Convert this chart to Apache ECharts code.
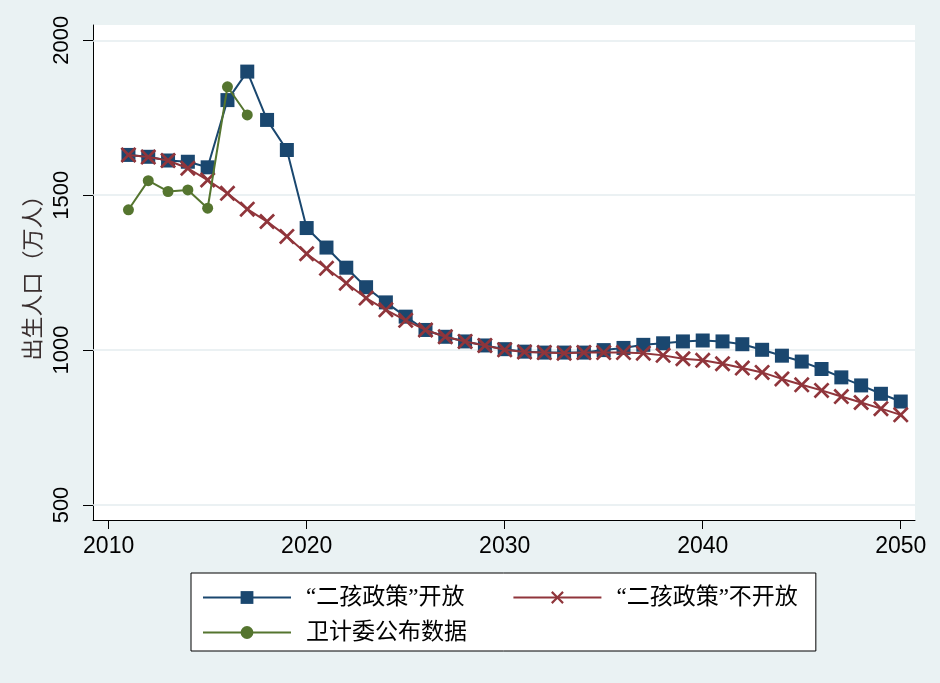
<!DOCTYPE html>
<html><head><meta charset="utf-8">
<script src="https://cdn.jsdelivr.net/npm/echarts@6/dist/echarts.min.js"></script>
<style>html,body{margin:0;padding:0;background:#eaf2f3}#c{width:940px;height:683px}</style>
</head><body><div id="c"></div>
<script>
const years = [2011,2012,2013,2014,2015,2016,2017,2018,2019,2020,2021,2022,2023,2024,2025,2026,2027,2028,2029,2030,2031,2032,2033,2034,2035,2036,2037,2038,2039,2040,2041,2042,2043,2044,2045,2046,2047,2048,2049,2050];
const openPolicy = [1630,1624,1612,1608,1590,1807,1899,1743,1646,1394,1331,1266,1203,1154,1108,1065,1043,1028,1015,1003,995,992,992,992,1000,1007,1017,1022,1028,1031,1028,1019,1001,982,963,939,912,886,859,834];
const noPolicy = [1630,1623,1612,1587,1549,1506,1455,1415,1367,1311,1264,1216,1168,1130,1096,1065,1043,1028,1015,1001,994,992,990,992,992,992,990,983,972,967,956,942,928,907,888,870,850,831,811,791];
const officialYears = [2011,2012,2013,2014,2015,2016,2017];
const officialData = [1453,1547,1512,1517,1458,1850,1759];
const xTicks = [2010,2020,2030,2040,2050];
const yTicks = [500,1000,1500,2000];
const names = ['“二孩政策”开放','“二孩政策”不开放','卫计委公布数据'];

const pair = (xs, ys) => xs.map((x, i) => [x, ys[i]]);
const crossPath = 'path://M0,12L12,0L50,38L88,0L100,12L62,50L100,88L88,100L50,62L12,100L0,88L38,50Z';
const numFont = 'Liberation Sans, Arial, sans-serif';
const cjkFont = 'Noto Sans CJK SC, sans-serif';
const legFont = 'Liberation Serif, Noto Sans CJK SC, serif';

const chart = echarts.init(document.getElementById('c'), null, {renderer: 'canvas'});
chart.setOption({
  backgroundColor: '#eaf2f3',
  animation: false,
  grid: {left: 93, right: 25, top: 25, bottom: 163, show: true, backgroundColor: '#ffffff', borderWidth: 0, containLabel: false},
  xAxis: {
    type: 'value', min: 2009.21, max: 2050.72,
    axisLine: {show: true, onZero: false, lineStyle: {color: '#000', width: 1}},
    axisTick: {show: true, length: 9, customValues: xTicks, lineStyle: {color: '#000', width: 1}},
    axisLabel: {customValues: xTicks, color: '#000', fontFamily: numFont, fontSize: 23, margin: 15, formatter: v => String(v)},
    splitLine: {show: false}
  },
  yAxis: {
    type: 'value', min: 451.6, max: 2049.4,
    name: '出生人口（万人）', nameLocation: 'middle', nameGap: 45, nameRotate: 90,
    nameTextStyle: {color: '#3a2f2f', fontFamily: cjkFont, fontSize: 22},
    axisLine: {show: true, onZero: false, lineStyle: {color: '#000', width: 1}},
    axisTick: {show: true, length: 10, customValues: yTicks, lineStyle: {color: '#000', width: 1}},
    axisLabel: {customValues: yTicks, rotate: 90, color: '#000', fontFamily: numFont, fontSize: 22, margin: 20, formatter: v => String(v)},
    splitLine: {show: false}
  },
  legend: {
    left: 191, top: 573, width: 620,
    orient: 'horizontal',
    backgroundColor: '#ffffff', borderColor: '#000', borderWidth: 1, borderRadius: 0,
    padding: [13, 18, 7, 11],
    itemWidth: 88, itemHeight: 16, itemGap: 12,
    textStyle: {color: '#000', fontFamily: legFont, fontSize: 23, lineHeight: 21, padding: [0, 0, 0, 10]},
    data: [
      {name: names[0], textStyle: {padding: [0, 36, 0, 10]}},
      {name: names[1]},
      {name: names[2]}
    ]
  },
  series: [
    {
      name: names[0], type: 'line', data: pair(years, openPolicy), z: 2,
      symbol: 'rect', symbolSize: 14,
      lineStyle: {color: '#1a476f', width: 2}, itemStyle: {color: '#1a476f'},
      markLine: {
        silent: true, symbol: 'none', z: 1, label: {show: false},
        lineStyle: {color: '#e4edef', width: 1.5, type: 'solid'},
        data: yTicks.map(v => ({yAxis: v}))
      }
    },
    {
      name: names[1], type: 'line', data: pair(years, noPolicy), z: 3,
      symbol: crossPath, symbolSize: 16,
      lineStyle: {color: '#90353b', width: 2}, itemStyle: {color: '#90353b'}
    },
    {
      name: names[2], type: 'line', data: pair(officialYears, officialData), z: 4,
      symbol: 'circle', symbolSize: 11,
      lineStyle: {color: '#55752f', width: 2}, itemStyle: {color: '#55752f'}
    }
  ]
});
</script></body></html>
